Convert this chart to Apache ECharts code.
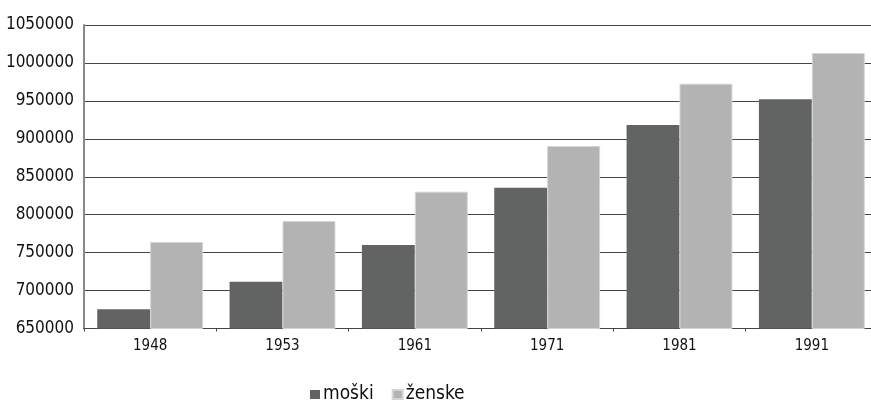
<!DOCTYPE html>
<html>
<head>
<meta charset="utf-8">
<script src="https://cdn.jsdelivr.net/npm/echarts@6/dist/echarts.min.js"></script>
<style>
html,body{margin:0;padding:0;background:#fff;}
#chart{width:871px;height:401px;}
</style>
</head>
<body>
<div id="chart"></div>
<script>
const years = ['1948', '1953', '1961', '1971', '1981', '1991'];
const moski = [675300, 711700, 760000, 835600, 918200, 952000];
const zenske = [764000, 791700, 830300, 890500, 972600, 1013100];
const seriesNames = ['moški', 'ženske'];
const yMin = 650000, yMax = 1050000, yStep = 50000;

const FONT = '"DejaVu Sans Condensed", "Liberation Sans Narrow", "DejaVu Sans", sans-serif';
const chart = echarts.init(document.getElementById('chart'), null, {renderer: 'canvas'});
chart.setOption({
  animation: false,
  backgroundColor: '#ffffff',
  textStyle: {fontFamily: FONT},
  grid: {left: 84, top: 25, bottom: 72.5, right: -7, containLabel: false, outerBoundsMode: 'none'},
  legend: {
    data: seriesNames,
    left: 305, top: 380,
    itemWidth: 10, itemHeight: 9, itemGap: 18,
    icon: 'rect',
    textStyle: {fontFamily: FONT, fontSize: 19, color: '#111', padding: [0,0,0,-2]}
  },
  xAxis: {
    type: 'category',
    data: years,
    axisLine: {lineStyle: {color: '#444', width: 1}},
    axisTick: {show: true, length: 3, lineStyle: {color: '#444'}},
    axisLabel: {fontFamily: FONT, fontSize: 15, color: '#111', margin: 10}
  },
  yAxis: {
    type: 'value',
    min: yMin, max: yMax, interval: yStep,
    axisLine: {show: true, lineStyle: {color: '#888', width: 2}},
    axisTick: {show: false},
    splitLine: {lineStyle: {color: '#444', width: 1}},
    axisLabel: {fontFamily: FONT, fontSize: 17, color: '#111', margin: 10,
      formatter: v => String(v)}
  },
  series: [
    {name: seriesNames[0], type: 'bar', data: moski, barGap: '0%', barCategoryGap: '20%',
     itemStyle: {color: '#626463'}},
    {name: seriesNames[1], type: 'bar', data: zenske, barGap: '0%', barCategoryGap: '20%',
     itemStyle: {color: '#b3b3b3', borderColor: '#d4d4d4', borderWidth: 1}}
  ]
});
</script>
</body>
</html>
